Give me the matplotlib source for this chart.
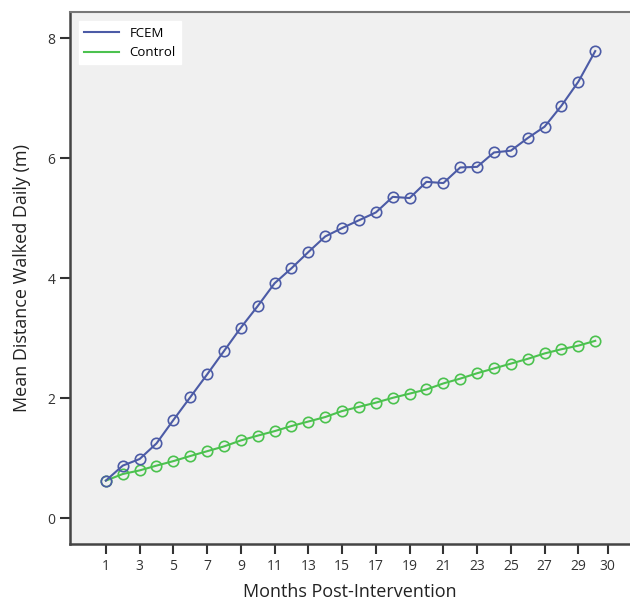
#! /usr/bin/env python3
# Mean distance walked daily, FCEM vs control, by month

import matplotlib
matplotlib.use("Agg")
import matplotlib.pyplot as plt

months = list(range(1, 31))
fcem = [0.63, 0.88, 0.99, 1.25, 1.64, 2.02, 2.40, 2.79, 3.18, 3.54,
        3.92, 4.17, 4.44, 4.70, 4.84, 4.97, 5.10, 5.36, 5.34, 5.61,
        5.59, 5.85, 5.86, 6.10, 6.13, 6.34, 6.53, 6.88, 7.28, 7.79]
control = [0.63, 0.74, 0.80, 0.88, 0.955, 1.04, 1.12, 1.20, 1.30, 1.38,
           1.455, 1.54, 1.615, 1.69, 1.79, 1.86, 1.93, 2.01, 2.08, 2.15,
           2.25, 2.33, 2.42, 2.50, 2.58, 2.66, 2.75, 2.82, 2.88, 2.96]
xtick_pos = [1, 3, 5, 7, 9, 11, 13, 15, 17, 19, 21, 23, 25, 27, 29, 30.74]
xtick_labels = ["1", "3", "5", "7", "9", "11", "13", "15", "17", "19",
                "21", "23", "25", "27", "29", "30"]
ytick_pos = [0, 2, 4, 6, 8]

BLUE = "#4c5ba6"
GREEN = "#4cc24f"

plt.rcParams['font.family'] = ['Open Sans', 'DejaVu Sans']

fig = plt.figure(figsize=(6.3, 6.04), dpi=100)
ax = fig.add_axes([0.111, 0.099, 0.889, 0.881])
ax.set_facecolor("#f0f0f0")

ax.plot(months, control, color=GREEN, lw=1.5, marker="o", ms=7.5,
        mfc="none", mec=GREEN, mew=1.2, label="Control", zorder=2)
ax.plot(months, fcem, color=BLUE, lw=1.5, marker="o", ms=7.5,
        mfc="none", mec=BLUE, mew=1.2, label="FCEM", zorder=3)

ax.set_xlim(-1.13, 32.06)
ax.set_ylim(-0.43, 8.44)
ax.set_xticks(xtick_pos)
ax.set_xticklabels(xtick_labels)
ax.set_yticks(ytick_pos)
ax.tick_params(axis="both", direction="out", length=7, width=1.5,
               color="#333333", labelsize=10, labelcolor="#333333")
ax.tick_params(axis="x", pad=4)

for side in ["left", "bottom", "top"]:
    ax.spines[side].set_color("#444444")
ax.spines["left"].set_linewidth(1.8)
ax.spines["bottom"].set_linewidth(1.8)
ax.spines["top"].set_linewidth(1.5)
ax.spines["top"].set_color("#777777")
ax.spines["right"].set_visible(False)

ax.set_xlabel("Months Post-Intervention", fontsize=13, color="#222222",
              labelpad=6)
ax.set_ylabel("Mean Distance Walked Daily (m)", fontsize=13,
              color="#222222", labelpad=12)

handles, labels = ax.get_legend_handles_labels()
leg = ax.legend(handles[::-1], labels[::-1], loc="upper left",
                fontsize=9.5, frameon=True, fancybox=False, framealpha=1,
                edgecolor="white", handlelength=2.6, borderaxespad=0.7,
                bbox_to_anchor=(0.0, 1.0))
for h in leg.get_lines():
    h.set_marker("")

fig.savefig("out.png", dpi=100, facecolor="white")
